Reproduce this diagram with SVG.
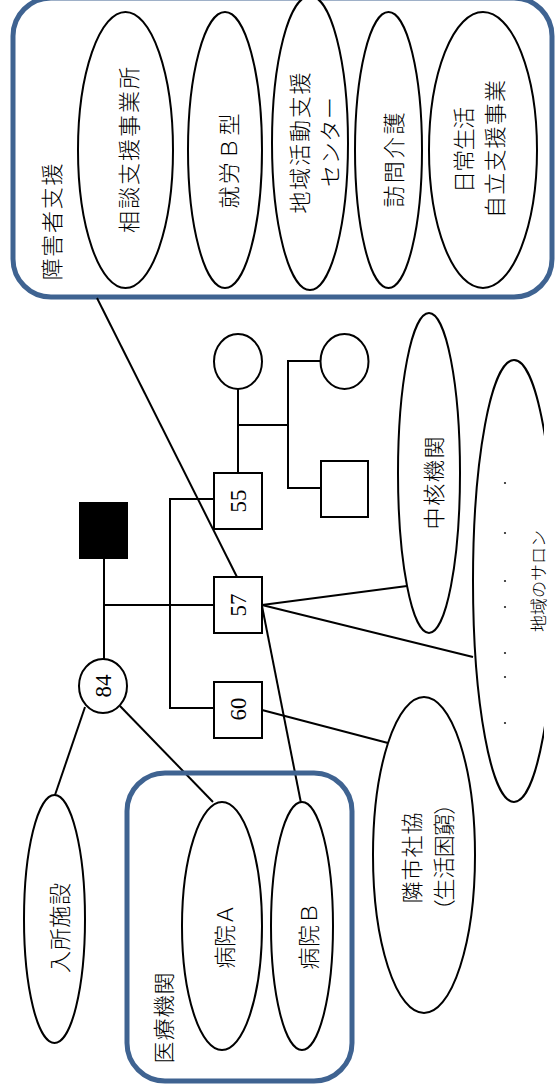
<svg xmlns="http://www.w3.org/2000/svg" width="556" height="1091" viewBox="0 0 556 1091">
<style>
.grp{fill:none;stroke:#3F6391;stroke-width:5}
.node{fill:#fff;stroke:#000;stroke-width:2}
.ln{fill:none;stroke:#000;stroke-width:2}
.jp{font-family:"Noto Sans CJK JP","Noto Sans CJK SC",sans-serif;font-size:22px;font-weight:300;fill:#000;text-anchor:middle;dominant-baseline:central}
.num{font-family:"Liberation Serif",serif;font-size:23px;fill:#000;text-anchor:middle;dominant-baseline:central}
</style>
<defs>
<clipPath id="clipR"><rect x="0" y="0" width="544" height="1091"/></clipPath>
</defs>
<rect width="556" height="1091" fill="#fff"/>

<g id="group-shogai">
<rect class="grp" x="13" y="-2" width="539" height="299" rx="38"/>
<text class="jp" transform="translate(50,222) rotate(-90)" textLength="117" lengthAdjust="spacing">障害者支援</text>
</g>
<g id="node-sodan">
<ellipse class="node" cx="125.5" cy="150" rx="47.5" ry="138"/>
<text class="jp" transform="translate(127,150) rotate(-90)" textLength="166" lengthAdjust="spacing">相談支援事業所</text>
</g>
<g id="node-shuro">
<ellipse class="node" cx="225" cy="150" rx="37" ry="138"/>
<text class="jp" transform="translate(227,161) rotate(-90)" textLength="95" lengthAdjust="spacing">就労Ｂ型</text>
</g>
<g id="node-chiiki-center">
<ellipse class="node" cx="310" cy="143" rx="38" ry="147"/>
<text class="jp" transform="translate(298,143) rotate(-90)" textLength="141" lengthAdjust="spacing">地域活動支援</text>
<text class="jp" transform="translate(328,142) rotate(-90)" textLength="90" lengthAdjust="spacing">センター</text>
</g>
<g id="node-homon">
<ellipse class="node" cx="388.5" cy="150" rx="33.5" ry="138"/>
<text class="jp" transform="translate(392,160) rotate(-90)" textLength="95" lengthAdjust="spacing">訪問介護</text>
</g>
<g id="node-nichijo">
<ellipse class="node" cx="483" cy="150" rx="54" ry="138"/>
<text class="jp" transform="translate(462,150) rotate(-90)" textLength="86" lengthAdjust="spacing">日常生活</text>
<text class="jp" transform="translate(493,149) rotate(-90)" textLength="138" lengthAdjust="spacing">自立支援事業</text>
</g>

<g id="connectors">
<polyline class="ln" points="104,559 104,659"/>
<polyline class="ln" points="104,605 214,605"/>
<polyline class="ln" points="214,499 170,499 170,708 214,708"/>
<polyline class="ln" points="238,389 238,473"/>
<polyline class="ln" points="238,425 288,425"/>
<polyline class="ln" points="320,361 288,361 288,488 321,488"/>
<line class="ln" x1="97" y1="298" x2="237" y2="577"/>
<line class="ln" x1="262" y1="605" x2="407" y2="586"/>
<line class="ln" x1="262" y1="605" x2="473" y2="657"/>
<line class="ln" x1="262" y1="606" x2="301" y2="803"/>
<line class="ln" x1="262" y1="710" x2="388" y2="743"/>
<line class="ln" x1="85" y1="707" x2="55" y2="795"/>
<line class="ln" x1="120" y1="706" x2="213" y2="802"/>
</g>

<g id="node-father">
<rect x="79.5" y="502.5" width="48" height="56" fill="#000" stroke="#000" stroke-width="1"/>
</g>
<g id="node-mother-84">
<ellipse class="node" cx="103" cy="686" rx="24" ry="27"/>
<text class="num" transform="translate(103,686) rotate(-90)">84</text>
</g>
<g id="node-55">
<rect class="node" x="214" y="473" width="48" height="56"/>
<text class="num" transform="translate(238,501) rotate(-90)">55</text>
</g>
<g id="node-57">
<rect class="node" x="214" y="577" width="48" height="56"/>
<text class="num" transform="translate(238,605) rotate(-90)">57</text>
</g>
<g id="node-60">
<rect class="node" x="214" y="682" width="48" height="56"/>
<text class="num" transform="translate(238,709) rotate(-90)">60</text>
</g>
<g id="node-wife">
<ellipse class="node" cx="238" cy="361.5" rx="24" ry="27.5"/>
</g>
<g id="node-daughter">
<ellipse class="node" cx="344.5" cy="361.5" rx="24" ry="27.5"/>
</g>
<g id="node-son">
<rect class="node" x="321" y="461" width="47" height="56"/>
</g>

<g id="node-chukaku">
<ellipse class="node" cx="429" cy="473" rx="31" ry="160"/>
<text class="jp" transform="translate(432,483) rotate(-90)" textLength="93" lengthAdjust="spacing">中核機関</text>
</g>
<g id="node-salon">
<ellipse class="node" cx="514" cy="581" rx="41" ry="221" clip-path="url(#clipR)"/>
<g fill="#222">
<circle cx="505" cy="483" r="1.1"/>
<circle cx="505" cy="533" r="1.1"/>
<circle cx="505" cy="581" r="1.1"/>
<circle cx="505" cy="607" r="1.1"/>
<circle cx="505" cy="653" r="1.1"/>
<circle cx="505" cy="677" r="1.1"/>
<circle cx="505" cy="723" r="1.1"/>
</g>
<text class="jp" style="font-size:17px" transform="translate(537,581) rotate(-90)" textLength="102" lengthAdjust="spacing">地域のサロン</text>
</g>
<g id="node-rinshi">
<ellipse class="node" cx="424" cy="855" rx="51" ry="158"/>
<text class="jp" transform="translate(410,858) rotate(-90)" textLength="91" lengthAdjust="spacing">隣市社協</text>
<text class="jp" style="font-feature-settings:'palt'" transform="translate(442,857) rotate(-90)" textLength="108" lengthAdjust="spacing">（生活困窮）</text>
</g>
<g id="node-nyusho">
<ellipse class="node" cx="54.5" cy="919" rx="30.5" ry="124"/>
<text class="jp" transform="translate(58,928) rotate(-90)" textLength="90" lengthAdjust="spacing">入所施設</text>
</g>
<g id="group-iryo">
<rect class="grp" x="127" y="773" width="225" height="308" rx="38"/>
<text class="jp" transform="translate(162,1018) rotate(-90)" textLength="91" lengthAdjust="spacing">医療機関</text>
</g>
<g id="node-byoin-a">
<ellipse class="node" cx="222" cy="926" rx="40" ry="124"/>
<text class="jp" transform="translate(223,936) rotate(-90)" textLength="65" lengthAdjust="spacing">病院Ａ</text>
</g>
<g id="node-byoin-b">
<ellipse class="node" cx="302" cy="926" rx="31" ry="124"/>
<text class="jp" transform="translate(307,936) rotate(-90)" textLength="67" lengthAdjust="spacing">病院Ｂ</text>
</g>
</svg>
